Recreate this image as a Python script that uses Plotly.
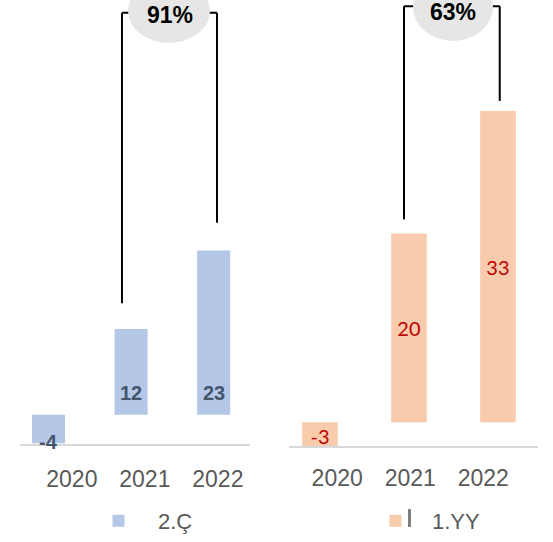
import plotly.graph_objects as go

# ---- data ----
years = ["2020", "2021", "2022"]
q2_values = [-4, 12, 23]        # 2.Ç (left panel)
h1_values = [-3, 20, 33]        # 1.YY (right panel)
q2_growth = "91%"
h1_growth = "63%"
q2_name = "2.Ç"
h1_name = "1.YY"

# ---- styles ----
W, H = 553, 542
BLUE = "#B4C7E7"
PEACH = "#F8CBAD"
AXIS_GREY = "#D9D9D9"
TEXT_GREY = "#595959"
FONT = "Arial, 'Liberation Sans', sans-serif"


def px(x):
    return x / W


def py(y):
    return (H - y) / H


fig = go.Figure()

fig.add_trace(go.Bar(
    x=years, y=q2_values, xaxis="x", yaxis="y",
    marker=dict(color=BLUE, line=dict(width=0)), width=0.4,
    name=q2_name, legend="legend", showlegend=True, hoverinfo="skip",
))
fig.add_trace(go.Bar(
    x=years, y=h1_values, xaxis="x2", yaxis="y2",
    marker=dict(color=PEACH, line=dict(width=0)), width=0.4,
    name=h1_name, legend="legend2", showlegend=True, hoverinfo="skip",
    text=[str(v) for v in h1_values], textposition="inside",
    insidetextanchor="middle", textangle=0,
    textfont=dict(color="#C00000", size=20, family="Lato, 'Noto Sans', sans-serif"),
    constraintext="none",
))
# empty traces that register the tick-label axes
fig.add_trace(go.Scatter(x=[], y=[], xaxis="x3", yaxis="y", showlegend=False,
                         hoverinfo="skip"))
fig.add_trace(go.Scatter(x=[], y=[], xaxis="x4", yaxis="y2", showlegend=False,
                         hoverinfo="skip"))

# left panel data labels
annotations = []
for i, v in enumerate(q2_values):
    annotations.append(dict(
        x=i, y=0 if v > 0 else v, xref="x", yref="y",
        text="<b>%d</b>" % v, showarrow=False,
        xanchor="center", yanchor="middle",
        yshift=22 if v > 0 else 1,
        font=dict(size=20, color="#44546A", family=FONT),
    ))

# growth bubbles text
annotations.append(dict(x=px(169.5), y=py(15), xref="paper", yref="paper",
                        text="<b>%s</b>" % q2_growth, showarrow=False,
                        xanchor="center", yanchor="middle",
                        font=dict(size=23, color="black", family=FONT)))
annotations.append(dict(x=px(453), y=py(12.5), xref="paper", yref="paper",
                        text="<b>%s</b>" % h1_growth, showarrow=False,
                        xanchor="center", yanchor="middle",
                        font=dict(size=23, color="black", family=FONT)))

shapes = []


def bracket(xref, yref, xa, xb, ya, yb, ytop):
    ln = dict(color="black", width=2)
    return [
        dict(type="line", xref=xref, yref=yref, x0=xa, x1=xa, y0=ya, y1=ytop, line=ln),
        dict(type="line", xref=xref, yref=yref, x0=xb, x1=xb, y0=yb, y1=ytop, line=ln),
        dict(type="line", xref=xref, yref=yref, x0=xa, x1=xb, y0=ytop, y1=ytop, line=ln),
    ]


shapes += bracket("x", "y", 1 - 0.11, 2 + 0.04,
                  q2_values[1] + 3.6, q2_values[2] + 3.9, 56.3)
shapes += bracket("x2", "y2", 1 - 0.056, 2 + 0.02,
                  h1_values[1] + 1.5, h1_values[2] + 1.06, 44.1)

# bubbles
shapes.append(dict(type="circle", xref="paper", yref="paper",
                   x0=px(128), x1=px(210), y0=py(43), y1=py(-21),
                   fillcolor="#E6E6E6", line=dict(width=0)))
shapes.append(dict(type="circle", xref="paper", yref="paper",
                   x0=px(413), x1=px(493), y0=py(41), y1=py(-27),
                   fillcolor="#E6E6E6", line=dict(width=0)))
# stray legend glyph
shapes.append(dict(type="rect", xref="paper", yref="paper",
                   x0=px(408), x1=px(411), y0=py(528), y1=py(510),
                   fillcolor="#7F7F7F", line=dict(width=0)))

axis_common = dict(showgrid=False, zeroline=False, ticks="", fixedrange=True)

fig.update_layout(
    width=W, height=H,
    margin=dict(l=0, r=0, t=0, b=0),
    paper_bgcolor="white", plot_bgcolor="rgba(0,0,0,0)",
    font=dict(family=FONT, color=TEXT_GREY),
    xaxis=dict(domain=[px(20), px(250)], anchor="y", type="category",
               range=[-0.345, 2.44], showticklabels=False,
               showline=True, linecolor=AXIS_GREY, linewidth=2, **axis_common),
    xaxis3=dict(overlaying="x", anchor="y", range=[-0.71, 2.44],
                tickmode="array", tickvals=[0, 1, 2], ticktext=years,
                showline=False, tickfont=dict(size=23, color=TEXT_GREY),
                ticklabelstandoff=19, **axis_common),
    yaxis=dict(domain=[py(445), 1], range=[-4.13, 58.1], visible=False),
    xaxis2=dict(domain=[px(289), px(538)], anchor="y2", type="category",
                range=[-0.348, 2.45], showticklabels=False,
                showline=True, linecolor=AXIS_GREY, linewidth=2, **axis_common),
    xaxis4=dict(overlaying="x2", anchor="y2", range=[-0.66, 2.75],
                tickmode="array", tickvals=[0, 1, 2], ticktext=years,
                showline=False, tickfont=dict(size=23, color=TEXT_GREY),
                ticklabelstandoff=16, **axis_common),
    yaxis2=dict(domain=[py(447), 1], range=[-2.54, 44.76], visible=False),
    legend=dict(x=px(79), y=py(521), xanchor="left", yanchor="middle",
                itemwidth=69, font=dict(size=22, color=TEXT_GREY),
                bgcolor="rgba(0,0,0,0)", borderwidth=0),
    legend2=dict(x=px(359), y=py(522), xanchor="left", yanchor="middle",
                 itemwidth=63, font=dict(size=22, color=TEXT_GREY),
                 bgcolor="rgba(0,0,0,0)", borderwidth=0),
    shapes=shapes,
    annotations=annotations,
    showlegend=True,
)

fig.write_html("out.html")
